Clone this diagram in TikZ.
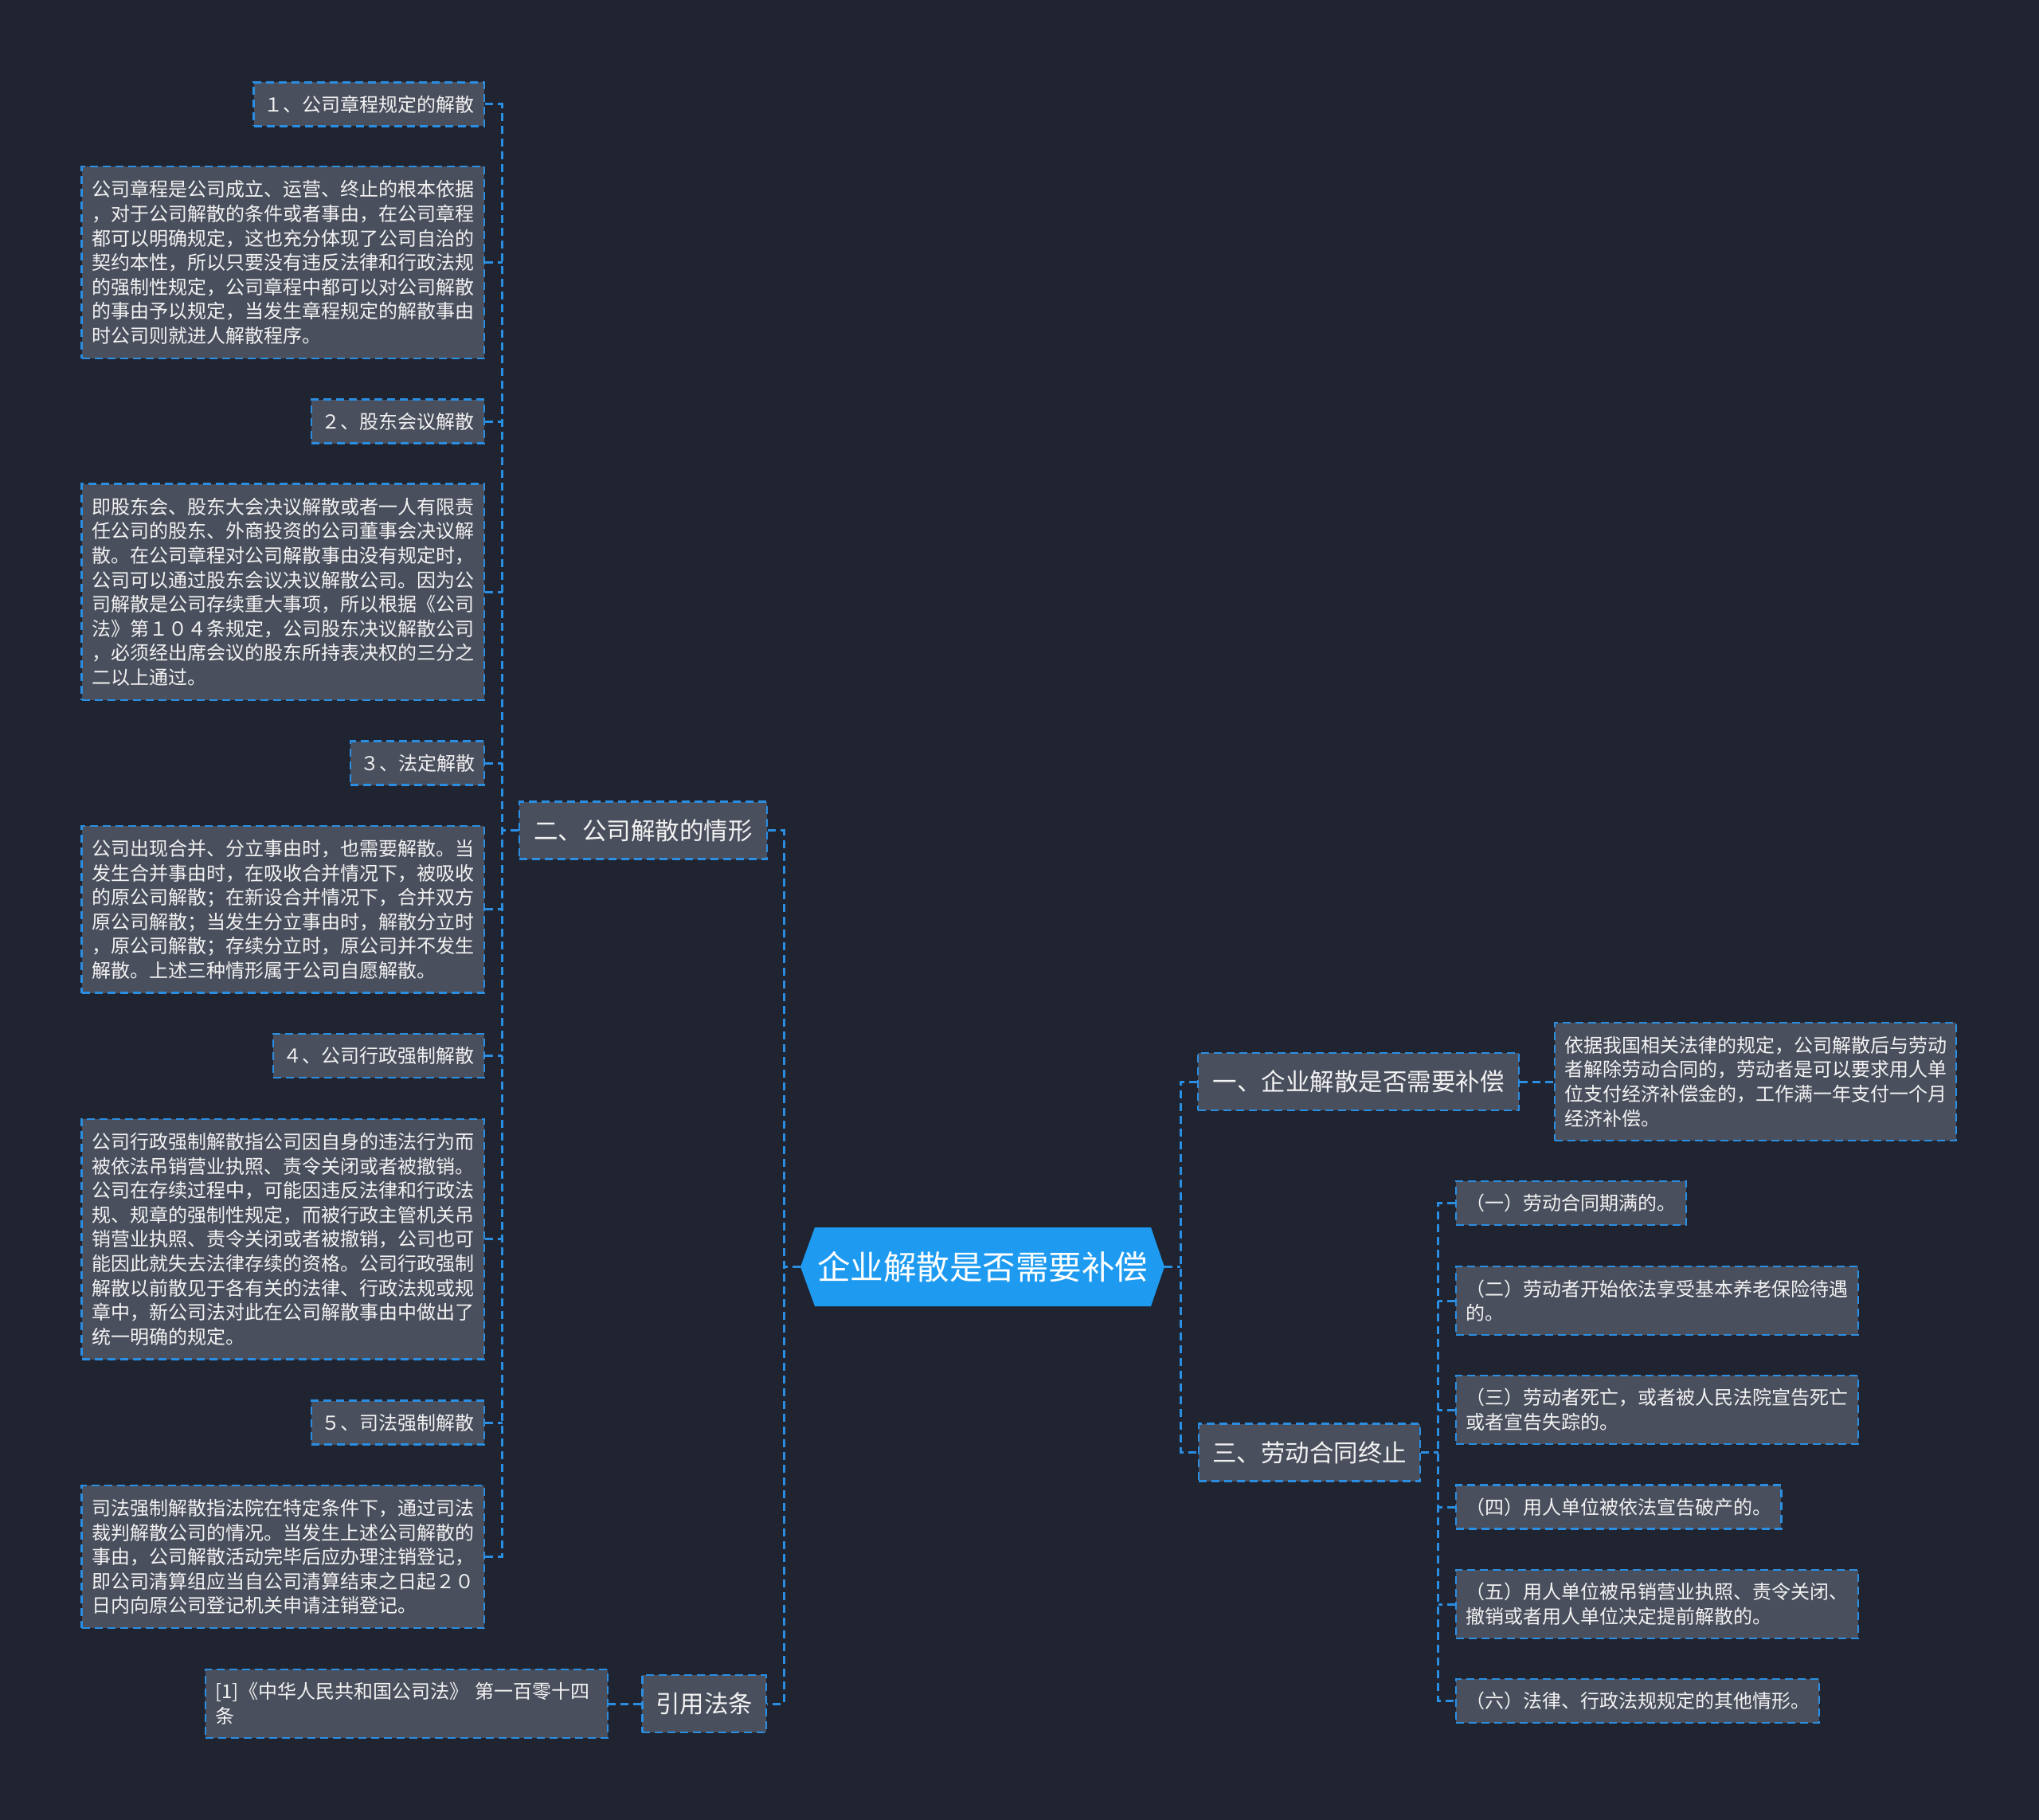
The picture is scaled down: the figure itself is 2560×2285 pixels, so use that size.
\documentclass[tikz,border=0pt]{standalone}
\usepackage{fontspec}
\setmainfont{Noto Sans CJK SC}
\definecolor{bg}{HTML}{202330}
\definecolor{nodefill}{HTML}{4A4F5D}
\definecolor{lineblue}{HTML}{2A8EE2}
\definecolor{rootblue}{HTML}{1E9BF0}
\definecolor{txt}{HTML}{F2F2F2}
\begin{document}
\begin{tikzpicture}[x=1pt,y=-1pt,
  box/.style={draw=lineblue, fill=nodefill, line width=2.5pt, dash pattern=on 10pt off 6pt,
    text=txt, inner sep=0pt, font=\fontsize{24}{30.6}\selectfont},
  small/.style={box, minimum height=55pt, minimum width=#1},
  para/.style={box, text width=#1, align=left, inner xsep=12.5pt},
  mainbox/.style={box, font=\fontsize{30.5}{36}\selectfont, minimum height=72pt, minimum width=#1},
  conn/.style={draw=lineblue, line width=3pt, dash pattern=on 10pt off 6pt}]
\lineskiplimit=-100pt
\fill[bg] (0,0) rectangle (2560,2285);
\useasboundingbox (0,0) rectangle (2560,2285);

% root
\fill[rootblue] (1005,1590.5) -- (1023,1541) -- (1445,1541) -- (1462,1590.5) -- (1445,1640) -- (1023,1640) -- cycle;
\node[font=\fontsize{41.5}{50}\selectfont, text=white, minimum width=457pt, minimum height=99pt, inner sep=0pt] (root) at (1233.5,1590.5) {企业解散是否需要补偿};

% level 1
\node[mainbox=311pt] (b2) at (807.5,1042.5) {二、公司解散的情形};
\node[mainbox=155.5pt] (yin) at (884,2139) {引用法条};
\node[mainbox=403pt] (b1) at (1705.5,1358) {一、企业解散是否需要补偿};
\node[mainbox=278pt] (b3) at (1644,1823.5) {三、劳动合同终止};

% left column
\node[small=289.4pt] (n1) at (463.3,130.8) {１、公司章程规定的解散};
\node[para=480.5pt, minimum height=241pt] (t1) at (355.25,329.5) {公司章程是公司成立、运营、终止的根本依据\\，对于公司解散的条件或者事由，在公司章程\\都可以明确规定，这也充分体现了公司自治的\\契约本性，所以只要没有违反法律和行政法规\\的强制性规定，公司章程中都可以对公司解散\\的事由予以规定，当发生章程规定的解散事由\\时公司则就进人解散程序。};
\node[small=217pt] (n2) at (499.5,529.2) {２、股东会议解散};
\node[para=480.5pt, minimum height=271.3pt] (t2) at (355.25,743.3) {即股东会、股东大会决议解散或者一人有限责\\任公司的股东、外商投资的公司董事会决议解\\散。在公司章程对公司解散事由没有规定时，\\公司可以通过股东会议决议解散公司。因为公\\司解散是公司存续重大事项，所以根据《公司\\法》第１０４条规定，公司股东决议解散公司\\，必须经出席会议的股东所持表决权的三分之\\二以上通过。};
\node[small=168pt] (n3) at (524,958.2) {３、法定解散};
\node[para=480.5pt, minimum height=209.7pt] (t3) at (355.25,1141.8) {公司出现合并、分立事由时，也需要解散。当\\发生合并事由时，在吸收合并情况下，被吸收\\的原公司解散；在新设合并情况下，合并双方\\原公司解散；当发生分立事由时，解散分立时\\，原公司解散；存续分立时，原公司并不发生\\解散。上述三种情形属于公司自愿解散。};
\node[small=265pt] (n4) at (475.5,1325.5) {４、公司行政强制解散};
\node[para=480.5pt, minimum height=301.7pt] (t4) at (355.25,1555.8) {公司行政强制解散指公司因自身的违法行为而\\被依法吊销营业执照、责令关闭或者被撤销。\\公司在存续过程中，可能因违反法律和行政法\\规、规章的强制性规定，而被行政主管机关吊\\销营业执照、责令关闭或者被撤销，公司也可\\能因此就失去法律存续的资格。公司行政强制\\解散以前散见于各有关的法律、行政法规或规\\章中，新公司法对此在公司解散事由中做出了\\统一明确的规定。};
\node[small=217pt] (n5) at (499.5,1786) {５、司法强制解散};
\node[para=480.5pt, minimum height=179pt] (t5) at (355.25,1954.5) {司法强制解散指法院在特定条件下，通过司法\\裁判解散公司的情况。当发生上述公司解散的\\事由，公司解散活动完毕后应办理注销登记，\\即公司清算组应当自公司清算结束之日起２０\\日内向原公司登记机关申请注销登记。};
\node[para=480pt, minimum height=86pt] (ref) at (510.5,2139) {[1]《中华人民共和国公司法》 第一百零十四\\条};

% right side
\node[para=479pt, minimum height=148pt] (d1) at (2204,1358) {依据我国相关法律的规定，公司解散后与劳动\\者解除劳动合同的，劳动者是可以要求用人单\\位支付经济补偿金的，工作满一年支付一个月\\经济补偿。};
\node[small=289pt] (c1) at (1972.5,1510.5) {（一）劳动合同期满的。};
\node[para=480pt, minimum height=86pt] (c2) at (2080.5,1633) {（二）劳动者开始依法享受基本养老保险待遇\\的。};
\node[para=480pt, minimum height=86pt] (c3) at (2080.5,1770) {（三）劳动者死亡，或者被人民法院宣告死亡\\或者宣告失踪的。};
\node[small=408.5pt] (c4) at (2032,1892) {（四）用人单位被依法宣告破产的。};
\node[para=480pt, minimum height=86pt] (c5) at (2080.5,2014) {（五）用人单位被吊销营业执照、责令关闭、\\撤销或者用人单位决定提前解散的。};
\node[small=456pt] (c6) at (2056,2135.5) {（六）法律、行政法规规定的其他情形。};

% bus coordinates
\coordinate (busL) at (630.5,0);
\coordinate (busM) at (984,0);
\coordinate (busR) at (1482,0);
\coordinate (busC) at (1805.5,0);

% connectors: root
\draw[conn] (root.east) -- (busR |- root.east);
\draw[conn] (b1.west) -- (busR |- b1.west) |- (b3.west);
\draw[conn] (root.west) -- (busM |- root.west);
\draw[conn] (b2.east) -- (busM |- b2.east) |- (yin.east);
% b1 -> d1
\draw[conn] (b1.east) -- (d1.west);
% b3 -> children
\draw[conn] (b3.east) -- (busC |- b3.east);
\draw[conn] (c1.west) -- (busC |- c1.west) |- (c6.west);
\foreach \c in {c2,c3,c4,c5} \draw[conn] (\c.west) -- (busC |- \c.west);
% b2 -> left column
\draw[conn] (b2.west) -- (busL |- b2.west);
\draw[conn] (n1.east) -- (busL |- n1.east) |- (t5.east);
\foreach \c in {t1,n2,t2,n3,t3,n4,t4,n5} \draw[conn] (\c.east) -- (busL |- \c.east);
% yin -> ref
\draw[conn] (yin.west) -- (ref.east);
\end{tikzpicture}
\end{document}
